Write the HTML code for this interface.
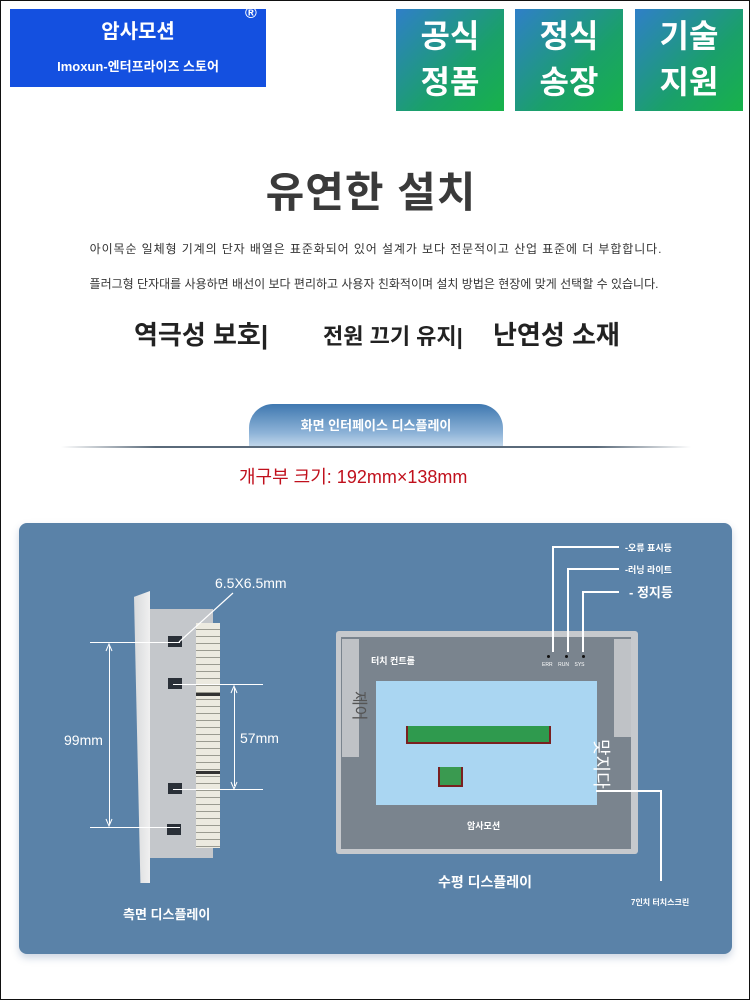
<!DOCTYPE html>
<html><head><meta charset="utf-8">
<style>
*{margin:0;padding:0;box-sizing:border-box}
body{width:750px;height:1000px;position:relative;background:#fff;font-family:"Liberation Sans","Noto Sans CJK KR",sans-serif;overflow:hidden;border:1px solid #111}
.a{position:absolute;white-space:nowrap}
.badge{position:absolute;top:8px;width:108px;height:102px;background:linear-gradient(135deg,#2f7fc8,#1aa06a 60%,#17b24a);color:#fff;font-weight:bold;font-size:32px;line-height:46px;text-align:center;padding-top:4px}
.w{color:#fff}
.ln{position:absolute;background:#fff}
.sq{position:absolute;width:14px;height:11px;background:#2a3038}
</style></head><body>
<div class="a" style="left:9px;top:8px;width:256px;height:78px;background:#1450e0"></div>
<div class="a w" style="left:9px;width:256px;top:14px;text-align:center;font-size:20px;font-weight:bold">암사모션</div>
<div class="a w" style="left:9px;width:256px;top:55px;text-align:center;font-size:13px;font-weight:bold">Imoxun-엔터프라이즈 스토어</div>
<div class="a w" style="left:244px;top:4px;font-size:16px;font-weight:bold">®</div>
<div class="badge" style="left:395px">공식<br>정품</div>
<div class="badge" style="left:514px">정식<br>송장</div>
<div class="badge" style="left:634px">기술<br>지원</div>

<div class="a" style="left:0;width:740px;top:158px;text-align:center;font-size:42px;font-weight:bold;color:#3a3a3a;letter-spacing:1px">유연한 설치</div>
<div class="a" style="left:0;width:750px;top:239px;text-align:center;font-size:12px;color:#333;letter-spacing:0.9px">아이목순 일체형 기계의 단자 배열은 표준화되어 있어 설계가 보다 전문적이고 산업 표준에 더 부합합니다.</div>
<div class="a" style="left:0;width:746px;top:274px;text-align:center;font-size:12px;color:#333">플러그형 단자대를 사용하면 배선이 보다 편리하고 사용자 친화적이며 설치 방법은 현장에 맞게 선택할 수 있습니다.</div>
<div class="a" style="left:133px;top:314px;font-size:26px;font-weight:bold;color:#222">역극성 보호|</div>
<div class="a" style="left:322px;top:318px;font-size:22px;font-weight:bold;color:#222">전원 끄기 유지|</div>
<div class="a" style="left:492px;top:314px;font-size:26px;font-weight:bold;color:#222">난연성 소재</div>

<div class="a" style="left:60px;top:445px;width:630px;height:2px;background:linear-gradient(90deg,rgba(80,100,120,0),#5a6a7a 15%,#5a6a7a 85%,rgba(80,100,120,0))"></div>
<div class="a" style="left:248px;top:403px;width:254px;height:42px;border-radius:24px 24px 0 0;background:linear-gradient(#3f78b0,#8fb4d8 70%,#c0d6ea)"></div>
<div class="a w" style="left:248px;width:254px;top:414px;text-align:center;font-size:13px;font-weight:bold">화면 인터페이스 디스플레이</div>
<div class="a" style="left:238px;top:462px;font-size:18px;color:#c0101c">개구부 크기: 192mm×138mm</div>

<div class="a" style="left:18px;top:522px;width:713px;height:431px;background:#5a82a8;border-radius:8px;box-shadow:0 4px 8px rgba(90,120,160,.3)"></div>

<!-- side view -->
<div class="a" style="left:133px;top:590px;width:16px;height:292px;background:linear-gradient(90deg,#d8dadc,#f0f0f0);clip-path:polygon(0 2%,100% 0,100% 100%,40% 100%)"></div>
<div class="a" style="left:149px;top:608px;width:63px;height:249px;background:#c4c7cb"></div>
<div class="a" style="left:195px;top:622px;width:24px;height:225px;background:repeating-linear-gradient(#eceae0 0 6px,#9a9a90 6px 7px)"></div>
<div class="a" style="left:195px;top:692px;width:24px;height:3px;background:#333"></div>
<div class="a" style="left:195px;top:770px;width:24px;height:3px;background:#333"></div>
<div class="sq" style="left:167px;top:635px"></div>
<div class="sq" style="left:167px;top:677px"></div>
<div class="sq" style="left:167px;top:782px"></div>
<div class="sq" style="left:166px;top:823px"></div>
<div class="ln" style="left:89px;top:641px;width:90px;height:1px"></div>
<div class="ln" style="left:89px;top:826px;width:90px;height:1px"></div>
<div class="ln" style="left:108px;top:645px;width:1px;height:178px"></div>
<div class="ln" style="left:172px;top:683px;width:90px;height:1px"></div>
<div class="ln" style="left:172px;top:788px;width:90px;height:1px"></div>
<div class="ln" style="left:233px;top:687px;width:1px;height:98px"></div>
<svg class="a" style="left:0;top:0" width="750" height="1000"><line x1="178" y1="641" x2="232" y2="592" stroke="#fff" stroke-width="1.2"/>
<path d="M105 650 L108 643 L111 650 M105 818 L108 825 L111 818 M230 692 L233 685 L236 692 M230 781 L233 788 L236 781" stroke="#fff" fill="none"/></svg>
<div class="a w" style="left:214px;top:574px;font-size:14px">6.5X6.5mm</div>
<div class="a w" style="left:63px;top:731px;font-size:14px">99mm</div>
<div class="a w" style="left:239px;top:729px;font-size:14px">57mm</div>
<div class="a w" style="left:122px;top:903px;font-size:13px;font-weight:bold">측면 디스플레이</div>

<!-- front view -->
<div class="a" style="left:335px;top:630px;width:302px;height:223px;background:#c6c9cd;border-radius:3px"></div>
<div class="a" style="left:340px;top:636px;width:290px;height:212px;background:#7a848e"></div>
<div class="a" style="left:341px;top:638px;width:17px;height:118px;background:#bfc2c6"></div>
<div class="a" style="left:613px;top:638px;width:17px;height:98px;background:#bfc2c6"></div>
<div class="a" style="left:375px;top:680px;width:221px;height:124px;background:#aad6f2"></div>
<div class="a" style="left:405px;top:725px;width:145px;height:18px;background:#2f9a4e;border:2px solid #7a2020;border-top:none"></div>
<div class="a" style="left:437px;top:766px;width:25px;height:20px;background:#3a9a50;border:2px solid #7a2020;border-top:none"></div>
<div class="a w" style="left:370px;top:653px;font-size:9px;font-weight:bold">터치 컨트롤</div>
<div class="a" style="left:546px;top:654px;width:3px;height:3px;background:#111;border-radius:2px"></div>
<div class="a" style="left:564px;top:654px;width:3px;height:3px;background:#111;border-radius:2px"></div>
<div class="a" style="left:581px;top:654px;width:3px;height:3px;background:#111;border-radius:2px"></div>
<div class="a w" style="left:541px;top:661px;font-size:5px">ERR&nbsp;&nbsp;&nbsp;&nbsp;RUN&nbsp;&nbsp;&nbsp;&nbsp;SYS</div>
<div class="ln" style="left:551px;top:545px;width:2px;height:106px"></div>
<div class="ln" style="left:551px;top:545px;width:67px;height:2px"></div>
<div class="ln" style="left:566px;top:567px;width:2px;height:84px"></div>
<div class="ln" style="left:566px;top:567px;width:52px;height:2px"></div>
<div class="ln" style="left:581px;top:590px;width:2px;height:61px"></div>
<div class="ln" style="left:581px;top:590px;width:37px;height:2px"></div>
<div class="a w" style="left:624px;top:540px;font-size:9px;font-weight:bold">-오류 표시등</div>
<div class="a w" style="left:624px;top:562px;font-size:9px;font-weight:bold">-러닝 라이트</div>
<div class="a w" style="left:628px;top:581px;font-size:13px;font-weight:bold">- 정지등</div>
<div class="a" style="top:690px;font-size:16px;color:#555;transform:rotate(90deg);transform-origin:left top;left:372px">제어</div>
<div class="a w" style="left:614px;top:738px;font-size:18px;transform:rotate(90deg);transform-origin:left top">맞지다</div>
<div class="ln" style="left:595px;top:789px;width:66px;height:2px"></div>
<div class="ln" style="left:659px;top:789px;width:2px;height:91px"></div>
<div class="a w" style="left:466px;top:818px;font-size:9px;font-weight:bold">암사모션</div>
<div class="a w" style="left:437px;top:871px;font-size:14px;font-weight:bold">수평 디스플레이</div>
<div class="a w" style="left:630px;top:896px;font-size:8px;font-weight:bold">7인치 터치스크린</div>
</body></html>
